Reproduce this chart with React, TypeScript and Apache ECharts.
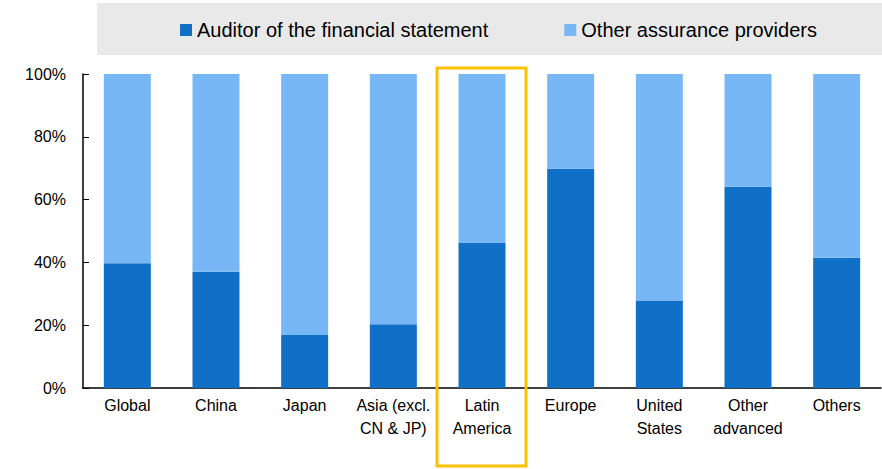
import React, { useEffect, useRef } from "react";
import * as echarts from "echarts";

const categories = [
  "Global",
  "China",
  "Japan",
  "Asia (excl.\nCN & JP)",
  "Latin\nAmerica",
  "Europe",
  "United\nStates",
  "Other\nadvanced",
  "Others",
];
const auditorShare = [39.7, 37.0, 16.9, 20.3, 46.3, 69.8, 27.9, 64.1, 41.5];
const otherShare = auditorShare.map((v) => +(100 - v).toFixed(1));
const yTicks = [0, 20, 40, 60, 80, 100];
const seriesNames = ["Auditor of the financial statement", "Other assurance providers"];

const FONT = "'Liberation Sans Narrow', 'Arial Narrow', 'Liberation Sans', Arial, sans-serif";

export default function App() {
  const ref = useRef<HTMLDivElement>(null);
  useEffect(() => {
    if (!ref.current) return;
    const chart = echarts.init(ref.current, null, { renderer: "svg" });
    chart.setOption({
      animation: false,
      textStyle: { fontFamily: FONT },
      graphic: [
        {
          type: "rect",
          z: -10,
          shape: { x: 97, y: 3, width: 785, height: 52 },
          style: { fill: "#e9e9e9" },
          silent: true,
        },
        {
          type: "rect",
          z: 100,
          shape: { x: 437, y: 68, width: 89, height: 398 },
          style: { fill: "none", stroke: "#FFC000", lineWidth: 3 },
          silent: true,
        },
      ],
      legend: {
        left: 175,
        top: 15,
        padding: 5,
        itemWidth: 12,
        itemHeight: 12,
        itemGap: 76,
        icon: "rect",
        textStyle: { fontSize: 20, color: "#000", fontFamily: FONT },
        data: seriesNames,
      },
      grid: { left: 83, right: 1, top: 74, bottom: 81, containLabel: false },
      xAxis: {
        type: "category",
        data: categories,
        axisLine: { lineStyle: { color: "#000", width: 1.5 } },
        axisTick: { inside: true, length: 4, lineStyle: { color: "#000" } },
        axisLabel: {
          color: "#000",
          fontSize: 16,
          lineHeight: 23,
          margin: 6,
          interval: 0,
          fontFamily: FONT,
        },
      },
      yAxis: {
        type: "value",
        min: 0,
        max: 100,
        interval: 20,
        axisLine: { show: true, lineStyle: { color: "#000", width: 1.5 } },
        axisTick: { show: true, inside: true, length: 6, lineStyle: { color: "#000" } },
        splitLine: { show: false },
        axisLabel: {
          color: "#000",
          fontSize: 16,
          margin: 17,
          fontFamily: FONT,
          formatter: (v: number) => (yTicks.includes(v) ? v + "%" : ""),
        },
      },
      series: [
        {
          name: seriesNames[0],
          type: "bar",
          stack: "total",
          data: auditorShare,
          barWidth: "53%",
          itemStyle: { color: "#106fc6" },
        },
        {
          name: seriesNames[1],
          type: "bar",
          stack: "total",
          data: otherShare,
          barWidth: "53%",
          itemStyle: { color: "#77b7f5" },
        },
      ],
    });
    return () => chart.dispose();
  }, []);
  return <div ref={ref} style={{ width: 882, height: 469, position: "absolute", left: 0, top: 0 }} />;
}
